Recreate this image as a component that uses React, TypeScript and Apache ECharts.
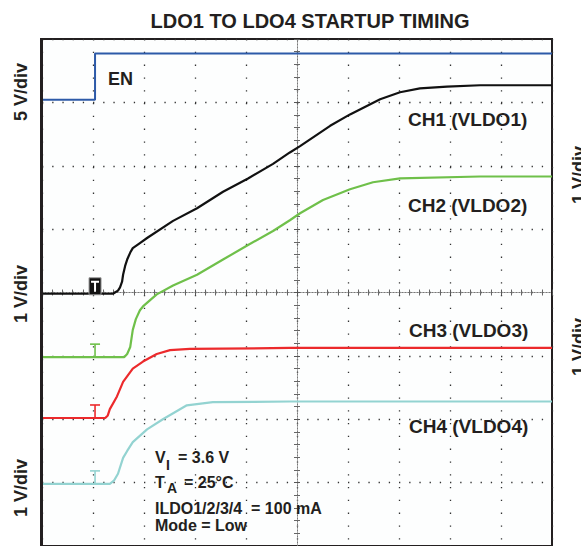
import React, { useEffect, useRef } from "react";
import * as echarts from "echarts";

// Oscilloscope graticule coordinates: x in divisions from screen centre (10 div wide),
// y in divisions from screen centre (8 div tall).
const TITLE = "LDO1 TO LDO4 STARTUP TIMING";

const enTrace: number[][] = [[-5, 3.04], [-3.96, 3.04], [-3.96, 3.77], [5, 3.77]];

const ch1Trace: number[][] = [
  [-5, -0.02], [-3.61, -0.02], [-3.57, 0.0], [-3.51, 0.03], [-3.47, 0.08], [-3.43, 0.17],
  [-3.41, 0.28], [-3.37, 0.42], [-3.33, 0.52], [-3.27, 0.63], [-3.22, 0.7], [-3.08, 0.78],
  [-2.94, 0.86], [-2.43, 1.13], [-1.96, 1.33], [-1.45, 1.59], [-0.96, 1.8], [-0.47, 2.03],
  [-0.14, 2.21], [0.06, 2.31], [0.65, 2.63], [1.04, 2.81], [1.63, 3.05],
  [2.02, 3.16], [2.41, 3.22], [2.94, 3.25], [3.59, 3.27], [5, 3.27],
];

const ch2Trace: number[][] = [
  [-5, -1.02], [-3.39, -1.02], [-3.33, -0.97], [-3.27, -0.86], [-3.22, -0.59], [-3.16, -0.42],
  [-3.08, -0.28], [-3.02, -0.22], [-2.88, -0.12], [-2.75, -0.03], [-2.43, 0.11], [-1.96, 0.28],
  [-1.45, 0.52], [-0.96, 0.75], [-0.47, 0.97], [-0.14, 1.14], [0.06, 1.25], [0.51, 1.46],
  [1.04, 1.63], [1.49, 1.74], [2.02, 1.8], [3.59, 1.83], [5, 1.83],
];

const ch3Trace: number[][] = [
  [-5, -1.98], [-3.76, -1.98], [-3.71, -1.94], [-3.67, -1.84], [-3.53, -1.64], [-3.41, -1.41],
  [-3.22, -1.2], [-3.02, -1.09], [-2.75, -0.97], [-2.49, -0.91], [-2.1, -0.89], [-0.14, -0.875],
  [5, -0.875],
];

const ch4Trace: number[][] = [
  [-5, -3.02], [-3.67, -3.02], [-3.59, -2.97], [-3.51, -2.86], [-3.41, -2.61], [-3.33, -2.5],
  [-3.22, -2.36], [-2.94, -2.16], [-2.63, -2.0], [-2.16, -1.78], [-1.65, -1.73], [-0.14, -1.72],
  [5, -1.72],
];

const traceNames = ["EN", "CH1 (VLDO1)", "CH2 (VLDO2)", "CH3 (VLDO3)", "CH4 (VLDO4)"];
const traceColors = ["#2d5aa8", "#111111", "#6fc04a", "#ec2a2c", "#93d3d1"];

// channel ground-reference markers: [x, level, channel index]
const groundMarkers: number[][] = [
  [-3.96, -0.02, 1],
  [-3.96, -1.02, 2],
  [-3.96, -1.98, 3],
  [-3.96, -3.02, 4],
];

const leftScaleLabels = ["5 V/div", "1 V/div", "1 V/div"];
const rightScaleLabels = ["1 V/div", "1 V/div"];
const conditionLines = ["ILDO1/2/3/4  = 100 mA", "Mode = Low"];

const FONT = "'Liberation Sans', Arial, Helvetica, sans-serif";
const INK = "#231f20";

export default function App() {
  const ref = useRef<HTMLDivElement>(null);

  useEffect(() => {
    document.body.style.margin = "0";
    if (!ref.current) return;
    const chart = echarts.init(ref.current, undefined, { renderer: "svg" });

    const traces = [enTrace, ch1Trace, ch2Trace, ch3Trace, ch4Trace];

    const axisCommon = {
      type: "value" as const,
      axisLabel: { show: false },
      axisLine: { onZero: true, lineStyle: { color: "#777", width: 1, type: [1, 2] as any } },
      axisTick: { show: true, length: 3, lineStyle: { color: "#555" } },
      minorTick: { show: true, splitNumber: 5, length: 3, lineStyle: { color: "#666" } },
    };

    const t = (text: string, x: number, y: number, size: number, extra: any = {}) => ({
      type: "text",
      x,
      y,
      z: 100,
      style: {
        text,
        fill: INK,
        font: `bold ${size}px ${FONT}`,
        align: "left",
        verticalAlign: "middle",
        ...extra,
      },
    });

    const graphic: any[] = [
      { type: "rect", shape: { x: 40, y: 38, width: 3, height: 520 }, style: { fill: INK }, z: 90 },
      t(TITLE, 310, 21, 20, { align: "center" }),
      t(traceNames[0], 108, 79, 18),
      t(traceNames[1], 408, 119.5, 19),
      t(traceNames[2], 408, 205, 19),
      t(traceNames[3], 409, 330, 19),
      t(traceNames[4], 409, 426, 19),
      // operating conditions
      t("V", 155, 457, 16),
      t("I", 166, 465, 14),
      t("= 3.6 V", 178, 457, 16),
      t("T", 155, 482, 16),
      t("A", 167, 488, 14),
      t("= 25°C", 184, 482, 16),
      t(conditionLines[0], 155, 508.5, 16),
      t(conditionLines[1], 155, 525, 16),
    ];
    const leftY = [92, 294, 488];
    leftScaleLabels.forEach((s, i) =>
      graphic.push({ ...t(s, 21, leftY[i], 18, { align: "center" }), rotation: Math.PI / 2 })
    );
    const rightY = [175, 347];
    rightScaleLabels.forEach((s, i) =>
      graphic.push({ ...t(s, 579, rightY[i], 18, { align: "center" }), rotation: Math.PI / 2 })
    );

    const option: any = {
      animation: false,
      backgroundColor: "#ffffff",
      grid: {
        left: 42,
        top: 39,
        width: 510,
        height: 512,
        show: true,
        borderColor: INK,
        borderWidth: 2,
        backgroundColor: "#fdfefe",
      },
      xAxis: [
        {
          ...axisCommon,
          min: -5,
          max: 5,
          interval: 1,
          splitLine: { show: true, lineStyle: { color: "#333", width: 1.3, type: [1.3, 11.5] } },
        },
        {
          ...axisCommon,
          position: "top",
          min: -5,
          max: 5,
          interval: 1,
          splitLine: { show: false },
        },
      ],
      yAxis: [
        {
          ...axisCommon,
          min: -4,
          max: 4,
          interval: 1,
          splitLine: { show: true, lineStyle: { color: "#333", width: 1.3, type: [1.3, 8.9] } },
        },
        {
          ...axisCommon,
          position: "right",
          min: -4,
          max: 4,
          interval: 1,
          splitLine: { show: false },
        },
      ],
      series: [
        ...traces.map((d, i) => ({
          type: "line",
          name: traceNames[i],
          data: d,
          xAxisIndex: 0,
          yAxisIndex: 0,
          showSymbol: false,
          symbol: "none",
          lineStyle: { color: traceColors[i], width: i === 0 ? 2 : 2.2 },
          z: 5 + i,
        })),
        {
          type: "custom",
          name: "ground",
          xAxisIndex: 0,
          yAxisIndex: 0,
          data: groundMarkers,
          z: 20,
          renderItem: (params: any, api: any) => {
            const p = api.coord([api.value(0), api.value(1)]);
            const ci = api.value(2);
            const c = traceColors[ci];
            if (ci === 1) {
              return {
                type: "group",
                children: [
                  {
                    type: "rect",
                    shape: { x: p[0] - 6, y: p[1] - 16, width: 12, height: 17 },
                    style: { fill: "#111", stroke: "#999", lineWidth: 1 },
                  },
                  {
                    type: "line",
                    shape: { x1: p[0] - 4, y1: p[1] - 12, x2: p[0] + 4, y2: p[1] - 12 },
                    style: { stroke: "#fff", lineWidth: 2 },
                  },
                  {
                    type: "line",
                    shape: { x1: p[0], y1: p[1] - 12, x2: p[0], y2: p[1] - 2 },
                    style: { stroke: "#fff", lineWidth: 2 },
                  },
                ],
              };
            }
            return {
              type: "group",
              children: [
                {
                  type: "line",
                  shape: { x1: p[0], y1: p[1], x2: p[0], y2: p[1] - 13 },
                  style: { stroke: c, lineWidth: 1.6 },
                },
                {
                  type: "line",
                  shape: { x1: p[0] - 5, y1: p[1] - 13, x2: p[0] + 5, y2: p[1] - 13 },
                  style: { stroke: c, lineWidth: 1.6 },
                },
              ],
            };
          },
        },
      ],
      graphic,
    };

    chart.setOption(option);
    return () => chart.dispose();
  }, []);

  return <div ref={ref} style={{ width: 581, height: 546 }} />;
}
